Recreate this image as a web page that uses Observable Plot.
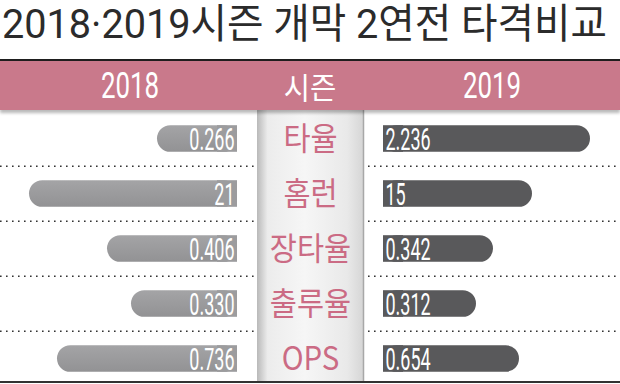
<!DOCTYPE html>
<html>
<head>
<meta charset="utf-8">
<script src="https://cdn.jsdelivr.net/npm/d3@7"></script>
<script src="https://cdn.jsdelivr.net/npm/@observablehq/plot@0.6"></script>
<style>
  html, body { margin: 0; padding: 0; background: #fff; }
  #wrap { width: 620px; position: relative; }
  #title { height: 59px; }
  #title svg { display: block; }
  #header { height: 49px; border-top: 2px solid #1e1e1e; background: #c9798b; position: relative; z-index: 1; box-shadow: 0 3px 3px rgba(0,0,0,0.28); }
  #header span { position: absolute; top: 0; line-height: 49px; color: #fff; white-space: nowrap; }
  #header .num { font-family: Roboto; font-size: 37px; transform: translateX(-50%) scaleX(0.7); }
  #header .kor { font-family: "Noto Sans CJK KR"; font-size: 31px; transform: translateX(-50%) scaleX(0.92); }
  #plot svg { display: block; }
  #bottom { height: 2px; background: #333; }
</style>
</head>
<body>
<div id="wrap">
  <div id="title"></div>
  <div id="header"></div>
  <div id="plot"></div>
  <div id="bottom"></div>
</div>
<script>
// ---- data ----
const titleText = "2018·2019시즌 개막 2연전 타격비교";
const headerLabels = ["2018", "시즌", "2019"];
const metrics = ["타율", "홈런", "장타율", "출루율", "OPS"];
const labels2018 = ["0.266", "21", "0.406", "0.330", "0.736"];
const labels2019 = ["2.236", "15", "0.342", "0.312", "0.654"];
// drawn bar lengths (common arbitrary units)
const bar2018 = [80, 208, 130, 106, 180];
const bar2019 = [207, 149, 110, 93, 136];

// ---- layout constants ----
const GAP = 73;      // half gap between inner bar ends
const COL = 53;      // half width of the centre column

// title (condensed newspaper style): Roboto for digits/dot, Noto CJK for Hangul
const titleEl = d3.select("#title").append("svg").attr("width", 620).attr("height", 59)
  .append("text")
  .attr("x", 0).attr("y", 0)
  .attr("transform", "translate(2,38) scale(1,1.22)")
  .attr("font-size", 34)
  .attr("font-family", "Roboto, 'Noto Sans CJK KR'")
  .attr("fill", "#2b2b2b")
  .text(titleText);
const natural = titleEl.node().getComputedTextLength();
titleEl.attr("textLength", Math.min(605, natural)).attr("lengthAdjust", "spacingAndGlyphs");
if (natural < 605) titleEl.attr("textLength", 605);

const header = document.getElementById("header");
const headerPos = [130, 310, 492];
headerLabels.forEach((t, i) => {
  const s = document.createElement("span");
  s.textContent = t;
  s.className = /^\d+$/.test(t) ? "num" : "kor";
  s.style.left = headerPos[i] + "px";
  header.appendChild(s);
});

const rows = metrics.map((m, i) => ({
  metric: m,
  l: labels2018[i], r: labels2019[i],
  lx1: -GAP - bar2018[i], lx2: -GAP,
  rx1: GAP, rx2: GAP + bar2019[i]
}));

const inset = 14.2;
const chart = Plot.plot({
  width: 620,
  height: 271,
  marginTop: 0, marginBottom: 0, marginLeft: 0, marginRight: 0,
  style: { fontFamily: "Roboto", background: "transparent", overflow: "visible" },
  x: { domain: [-310, 310], axis: null },
  y: { domain: metrics, range: [0, 277], padding: 0, axis: null },
  marks: [
    // centre column
    Plot.rect([0], { x1: -COL, x2: COL, fill: "url(#colgrad)" }),
    Plot.ruleX([COL], { stroke: "#a8a8a8", strokeWidth: 1.5 }),
    // dotted separators
    Plot.ruleY(metrics.slice(1), { y: d => d, x1: -310, x2: -COL - 2, dy: -27.7, stroke: "#333", strokeWidth: 1.6, strokeDasharray: "1.6,4.4" }),
    Plot.ruleY(metrics.slice(1), { y: d => d, x1: COL + 5, x2: 310, dy: -27.7, stroke: "#333", strokeWidth: 1.6, strokeDasharray: "1.6,4.4" }),
    // 2018 bars (rounded outer end)
    Plot.rect(rows, { x1: "lx1", x2: "lx2", y: "metric", insetTop: inset, insetBottom: inset, rx: 13.3, fill: "url(#leftgrad)" }),
    Plot.rect(rows, { x1: d => d.lx2 - 20, x2: "lx2", y: "metric", insetTop: inset, insetBottom: inset, fill: "#9c9c9e" }),
    // 2019 bars
    Plot.rect(rows, { x1: "rx1", x2: "rx2", y: "metric", insetTop: inset, insetBottom: inset, rx: 13.3, fill: "#59595b" }),
    Plot.rect(rows, { x1: "rx1", x2: d => d.rx1 + 20, y: "metric", insetTop: inset, insetBottom: inset, fill: "#59595b" }),
    // value labels
    Plot.text(rows, { x: "lx2", y: "metric", text: "l", dx: -3, dy: 1, textAnchor: "end", fill: "#fff", fontSize: 31 }),
    Plot.text(rows, { x: "rx1", y: "metric", text: "r", dx: 2, dy: 1, textAnchor: "start", fill: "#fff", fontSize: 31 }),
    // metric names
    Plot.text(rows, { x: 0, y: "metric", text: "metric", fill: "#cb6b84", fontSize: 32, fontFamily: "Noto Sans CJK KR", dy: 1 })
  ]
});

document.getElementById("plot").appendChild(chart);

// gradients
const svg = d3.select(chart);
const defs = svg.insert("defs", ":first-child");
const cg = defs.append("linearGradient").attr("id", "colgrad").attr("x1", 0).attr("x2", 1).attr("y1", 0).attr("y2", 0);
[[0, "#b9b9b9"], [0.1, "#ececec"], [0.45, "#f6f6f6"], [0.85, "#e9e9e9"], [1, "#d6d6d6"]].forEach(([o, c]) => cg.append("stop").attr("offset", o).attr("stop-color", c));
const lg = defs.append("linearGradient").attr("id", "leftgrad").attr("x1", 0).attr("x2", 0).attr("y1", 0).attr("y2", 1);
[[0, "#a4a4a6"], [1, "#929294"]].forEach(([o, c]) => lg.append("stop").attr("offset", o).attr("stop-color", c));

// condense text like the newspaper face
svg.selectAll("text").each(function () {
  const t = this.textContent;
  const isNum = /^[\d.]+$/.test(t);
  const f = isNum ? 0.58 : 0.92;
  const w = this.getComputedTextLength();
  this.setAttribute("textLength", (w * f).toFixed(1));
  this.setAttribute("lengthAdjust", "spacingAndGlyphs");
});
</script>
</body>
</html>
